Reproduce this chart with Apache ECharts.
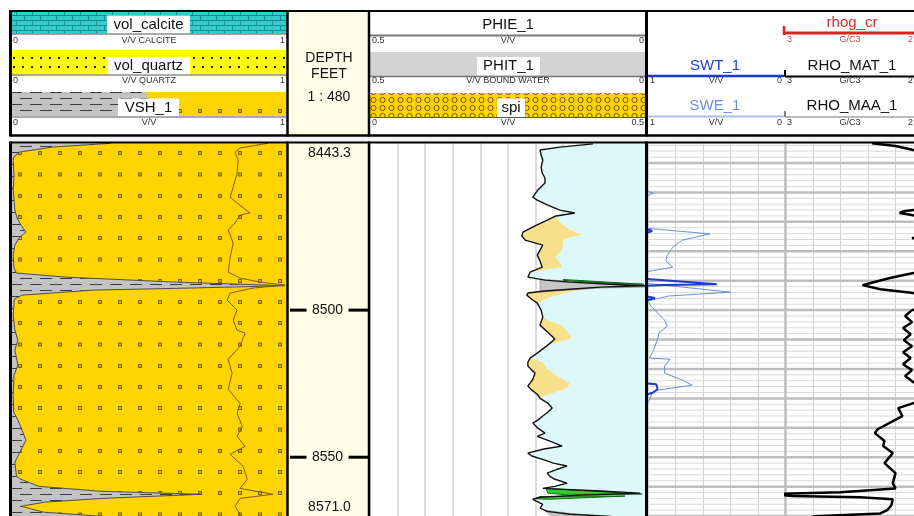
<!DOCTYPE html>
<html>
<head>
<meta charset="utf-8">
<title>Well log</title>
<script src="https://cdn.jsdelivr.net/npm/echarts@6.0.0/dist/echarts.min.js"></script>
<style>
html, body { margin: 0; padding: 0; background: #ffffff; }
#log { width: 914px; height: 516px; }
</style>
</head>
<body>
<div id="log"></div>
<script>
// Depth interval of the plot, feet
const depthTop = 8443.3;
const depthBottom = 8571.0;
const depthTicks = [8500, 8550];

// Track 1: shale volume VSH_1, [depth, V/V]
const vsh = [
  [8443.3,0.36],[8444.6,0.15],[8446.3,0.03],[8448.0,0.01],[8449.0,0.008],[8454.1,0.011],[8459.2,0.008],
  [8466.0,0.014],[8468.7,0.022],[8471.1,0.036],[8473.5,0.054],[8475.5,0.029],[8477.9,0.014],[8481.3,0.008],
  [8485.7,0.011],[8487.4,0.02],[8488.8,0.2],[8490.5,0.6],[8491.7,0.99],[8492.5,0.65],[8493.2,0.3],
  [8494.9,0.04],[8496.3,0.012],[8501.7,0.008],[8506.8,0.014],[8510.2,0.025],[8513.6,0.014],[8518.7,0.025],
  [8522.1,0.011],[8528.9,0.008],[8534.7,0.01],[8537.4,0.025],[8541.5,0.043],[8544.2,0.054],[8547.6,0.036],
  [8551.7,0.014],[8556.5,0.02],[8557.5,0.036],[8559.9,0.1],[8561.6,0.33],[8562.6,0.69],[8564.0,0.33],
  [8565.3,0.12],[8566.7,0.036],[8567.3,0.04],[8568.7,0.12],[8570.1,0.33],[8571.0,0.4]
];

// Track 1: cumulative mineral volume line, [depth, V/V]
const mineralLine = [
  [8443.3,0.93],[8444.9,0.83],[8446.3,0.812],[8449.0,0.823],[8453.4,0.819],[8458.2,0.805],[8461.6,0.794],
  [8463.6,0.819],[8467.0,0.866],[8467.7,0.83],[8470.4,0.812],[8472.8,0.787],[8477.2,0.805],[8482.0,0.794],
  [8487.1,0.787],[8489.1,0.83],[8490.5,0.903],[8491.5,0.993],[8492.5,0.877],[8494.2,0.794],[8496.6,0.783],
  [8500.0,0.819],[8503.4,0.805],[8506.8,0.819],[8507.8,0.848],[8512.3,0.83],[8516.7,0.787],[8521.5,0.801],
  [8526.9,0.787],[8531.7,0.83],[8535.1,0.819],[8539.5,0.838],[8542.9,0.819],[8546.3,0.848],[8549.0,0.794],
  [8553.1,0.841],[8557.5,0.856],[8560.6,0.83],[8562.6,0.949],[8564.0,0.83],[8566.7,0.812],[8569.4,0.83],
  [8571.0,0.82]
];

// Track 3: effective porosity PHIE_1, [depth, V/V]
const phie = [
  [8443.5,0.096],[8444.6,0.156],[8445.6,0.192],[8447.3,0.190],[8449.0,0.187],[8451.4,0.190],[8453.4,0.188],
  [8455.1,0.183],[8456.8,0.183],[8459.2,0.196],[8461.6,0.205],[8462.6,0.197],[8464.3,0.178],[8466.0,0.156],
  [8467.0,0.129],[8468.0,0.163],[8469.4,0.179],[8471.4,0.201],[8473.5,0.223],[8474.8,0.225],[8476.2,0.219],
  [8477.9,0.187],[8479.6,0.192],[8481.3,0.197],[8483.3,0.192],[8485.4,0.188],[8487.1,0.210],[8488.8,0.214],
  [8489.8,0.183],[8490.5,0.138],[8491.2,0.065],[8491.7,0.002],[8492.2,0.083],[8492.9,0.138],[8493.5,0.183],
  [8494.2,0.214],[8494.9,0.216],[8496.3,0.207],[8497.6,0.197],[8500.0,0.190],[8502.4,0.187],[8505.1,0.192],
  [8507.5,0.178],[8509.8,0.165],[8511.9,0.178],[8514.6,0.197],[8516.3,0.210],[8517.7,0.214],[8519.0,0.214],
  [8520.4,0.207],[8521.4,0.201],[8523.5,0.205],[8524.8,0.210],[8525.8,0.214],[8527.2,0.207],[8528.6,0.197],
  [8530.0,0.192],[8531.6,0.178],[8533.3,0.170],[8534.7,0.178],[8536.0,0.187],[8537.4,0.196],[8538.4,0.205],
  [8540.1,0.196],[8541.8,0.183],[8542.9,0.197],[8544.5,0.174],[8546.2,0.152],[8547.3,0.187],[8548.6,0.214],
  [8549.6,0.207],[8551.0,0.183],[8552.0,0.168],[8553.0,0.143],[8554.1,0.161],[8555.4,0.179],[8556.5,0.174],
  [8557.5,0.165],[8558.8,0.143],[8559.9,0.165],[8560.6,0.187],[8561.5,0.083],[8562.2,0.011],[8562.9,0.120],
  [8563.6,0.192],[8564.3,0.205],[8566.0,0.187],[8567.3,0.192],[8568.4,0.179],[8569.4,0.138],[8570.1,0.065],
  [8571.0,0.047]
];

// Track 3: right edge of the secondary porosity (spi) fill, one list per zone,
// each starting and ending on the PHIE_1 curve, [depth, V/V]
const spiZone1 = [[8468.0,0.163],[8470.1,0.156],[8472.1,0.143],[8474.5,0.116],[8475.2,0.138],[8476.2,0.150],
  [8479.6,0.152],[8482.0,0.165],[8483.7,0.156],[8485.4,0.152],[8486.4,0.185],[8487.1,0.210]];
const spiZone2 = [[8492.2,0.083],[8492.9,0.105],[8493.5,0.130],[8494.2,0.148],[8495.6,0.174],[8496.9,0.190],[8497.6,0.197]];
const spiZone3 = [[8502.4,0.187],[8503.4,0.178],[8505.4,0.152],[8507.8,0.141],[8509.5,0.134],[8510.5,0.152],
  [8511.2,0.163],[8511.9,0.178]];
const spiZone4 = [[8516.3,0.210],[8517.7,0.187],[8520.1,0.179],[8522.4,0.161],[8524.8,0.138],[8526.5,0.143],
  [8527.9,0.165],[8528.9,0.183],[8530.0,0.192]];

// Track 3: bound water (PHIT_1 - PHIE_1) outlines, [depth, V/V]
const boundWater1 = [[8489.5,0.192],[8490.2,0.138],[8490.8,0.065],[8491.7,0.002],[8492.2,0.002],[8492.5,0.083],
  [8493.2,0.147],[8493.9,0.192]];
const boundWater2 = [[8568.0,0.183],[8569.1,0.138],[8570.1,0.062],[8571.0,0.05],[8571.0,0.156],[8569.1,0.178]];

// Track 3: gas flag outlines, [depth, V/V]
const gasFlag1 = [[8489.6,0.150],[8491.2,0.004],[8490.9,0.060],[8489.9,0.150]];
const gasFlag2 = [[8560.6,0.181],[8561.5,0.101],[8562.5,0.007],[8562.7,0.065],[8562.9,0.138],[8562.2,0.178]];
const gasFlag3 = [[8563.4,0.192],[8563.2,0.083],[8563.2,0.038],[8563.7,0.101],[8564.3,0.178],[8564.1,0.201]];

// Track 4: total water saturation SWT_1, [depth, V/V]
const swt = [
  [8443.3,1.03],[8472.1,1.03],[8473.1,0.97],[8474.1,1.03],[8489.2,1.03],[8489.5,0.98],[8491.2,0.50],
  [8491.5,0.88],[8491.8,1.03],[8495.2,1.03],[8495.9,0.95],[8496.9,1.03],[8524.8,1.03],[8525.2,0.94],
  [8526.9,0.93],[8528.2,0.97],[8528.9,1.03],[8571.0,1.03]
];
// Track 4: effective water saturation SWE_1, [depth, V/V]
const swe = [
  [8443.3,1.03],[8459.2,1.03],[8460.2,0.96],[8461.6,1.03],[8472.1,1.03],[8474.1,0.55],[8476.2,0.75],
  [8478.6,0.82],[8481.3,0.86],[8483.3,0.87],[8485.4,0.82],[8487.1,1.03],[8490.8,1.03],[8493.9,0.40],
  [8495.2,0.85],[8496.9,1.0],[8498.6,0.98],[8501.0,0.93],[8503.4,0.88],[8505.4,0.86],[8507.8,0.92],
  [8509.8,0.93],[8513.6,0.96],[8516.3,0.99],[8516.7,0.84],[8519.0,0.88],[8521.4,0.88],[8523.8,0.75],
  [8525.5,0.68],[8527.2,0.93],[8528.2,0.97],[8531.6,1.0],[8534.0,1.03],[8571.0,1.03]
];
// Track 4: matrix density RHO_MAT_1, [depth, G/C3]
const rhoMat = [
  [8443.3,2.37],[8444.2,2.20],[8445.6,2.07],[8446.6,1.95],[8465.3,1.95],[8466.3,2.13],[8467.0,2.17],
  [8467.7,2.08],[8468.7,1.95],[8474.5,1.95],[8475.5,2.08],[8476.5,1.95],[8486.1,1.95],[8487.4,2.07],
  [8489.1,2.24],[8490.8,2.38],[8491.5,2.44],[8492.9,2.31],[8494.2,2.07],[8495.2,1.95],[8499.0,1.95],
  [8500.0,2.08],[8502.0,2.13],[8504.1,2.08],[8506.1,2.145],[8508.2,2.09],[8510.2,2.14],[8512.3,2.08],
  [8514.3,2.145],[8516.3,2.09],[8518.4,2.145],[8520.4,2.08],[8522.4,2.13],[8524.5,2.07],[8525.8,1.95],
  [8530.6,1.95],[8531.6,2.07],[8533.3,2.18],[8536.0,2.15],[8540.5,2.33],[8541.8,2.35],[8544.5,2.28],
  [8546.2,2.29],[8548.6,2.22],[8552.0,2.28],[8555.4,2.20],[8558.8,2.22],[8560.6,2.20],[8561.9,2.60],
  [8562.3,2.95],[8562.5,3.1],[8563.0,3.1],[8563.2,2.95],[8563.6,2.46],[8564.3,2.22],[8566.3,2.23],
  [8568.0,2.26],[8569.1,2.31],[8570.1,2.78],[8571.0,2.89]
];

const FONT = '"Liberation Sans", Arial, sans-serif';

// ---- fill patterns ----
function tile(w, h, draw) {
  const c = document.createElement('canvas');
  c.width = w; c.height = h;
  draw(c.getContext('2d'));
  return { image: c, repeat: 'repeat' };
}
const brickFill = tile(16, 10, g => {
  g.fillStyle = '#33cccc'; g.fillRect(0, 0, 16, 10);
  g.fillStyle = '#178c8f';
  g.fillRect(0, 0, 16, 1); g.fillRect(0, 5, 16, 1);
  g.fillRect(0, 0, 1, 5); g.fillRect(8, 5, 1, 5);
});
const quartzFill = tile(9, 9, g => {
  g.fillStyle = '#ffff00'; g.fillRect(0, 0, 9, 9);
  g.fillStyle = '#222'; g.fillRect(4, 3, 2, 2);
});
const shaleFill = tile(20, 12, g => {
  g.fillStyle = '#c3c3c3'; g.fillRect(0, 0, 20, 12);
  g.fillStyle = '#3c3c3c';
  g.fillRect(0, 2, 12, 1);
  g.fillRect(10, 8, 10, 1); g.fillRect(0, 8, 2, 1);
});
// sandstone: small squares on a 20 px grid, centred on multiples of 20
const sandFill = tile(20, 85, g => {
  g.fillStyle = '#ffd400'; g.fillRect(0, 0, 20, 85);
  [2.5, 24, 45, 66].forEach(y => {
    g.fillStyle = '#7d6400'; g.fillRect(18, y, 2, 4); g.fillRect(0, y, 2, 4);
    g.fillStyle = '#d8b400'; g.fillRect(19, y + 1, 1, 2); g.fillRect(0, y + 1, 1, 2);
  });
});
const spiFill = tile(9, 8, g => {
  g.fillStyle = '#ffd400'; g.fillRect(0, 0, 9, 8);
  g.strokeStyle = '#6e5410'; g.lineWidth = 1;
  g.beginPath(); g.arc(4.5, 4, 2.6, 0, Math.PI * 2); g.stroke();
});

// ---- helpers ----
const swap = arr => arr.map(p => [p[1], p[0]]);
function zonePolygon(edge, curve) {
  const d0 = edge[0][0], d1 = edge[edge.length - 1][0];
  const back = curve.filter(p => p[0] > d0 && p[0] < d1).reverse();
  return edge.concat(back);
}
function polySeries(axis, polys, style, z) {
  return {
    type: 'custom', xAxisIndex: axis, yAxisIndex: axis, clip: true, silent: true, z: z,
    data: polys.map(() => [0, depthTop]),
    renderItem: (params, api) => ({
      type: 'polygon',
      shape: { points: polys[params.dataIndex].map(p => api.coord([p[1], p[0]])) },
      style: style
    })
  };
}
function lineSeries(axis, arr, color, width, z) {
  return {
    type: 'line', xAxisIndex: axis, yAxisIndex: axis, data: swap(arr), showSymbol: false,
    silent: true, z: z, clip: true, lineStyle: { color: color, width: width }
  };
}

// ---- header graphics ----
const gfx = [];
function rect(x, y, w, h, fill, z) { gfx.push({ type: 'rect', z: z || 10, silent: true, shape: { x, y, width: w, height: h }, style: { fill } }); }
function seg(x1, y1, x2, y2, color, w, z) { gfx.push({ type: 'line', z: z || 20, silent: true, shape: { x1, y1, x2, y2 }, style: { stroke: color, lineWidth: w } }); }
function txt(s, x, y, size, color, align) {
  gfx.push({ type: 'text', z: 30, silent: true, x, y,
    style: { text: s, font: size + 'px ' + FONT, fill: color, align: align || 'center', verticalAlign: 'middle' } });
}
function scale(y, l, c, r, x0, x1, color) {
  const col = color || '#333';
  txt(l, x0 + 2, y, 9, col, 'left');
  txt(c, (x0 + x1) / 2, y, 9, col, 'center');
  txt(r, x1 - 2, y, 9, col, 'right');
}
function label(s, cx, cy, bx, bw, color) {
  rect(bx, cy - 9, bw, 18.5, '#ffffff', 15);
  txt(s, cx, cy, 15, color || '#111');
}

// track 1 header
rect(11, 12, 276, 21.5, brickFill);
seg(11, 34, 287, 34, '#555', 1);
scale(41, '0', 'V/V CALCITE', '1', 11, 287);
label('vol_calcite', 148.5, 24.5, 107, 83);
rect(11, 50, 276, 24.5, quartzFill);
seg(11, 75, 287, 75, '#555', 1);
scale(81, '0', 'V/V QUARTZ', '1', 11, 287);
label('vol_quartz', 148.5, 66, 107, 83);
rect(11, 92, 137, 24, shaleFill);
rect(148, 92, 139, 24, sandFill);
seg(11, 117, 287, 117, '#555', 1);
scale(123, '0', 'V/V', '1', 11, 287);
label('VSH_1', 148.5, 107.5, 118, 61);

// depth header
rect(288, 12, 81, 123, '#fffde8');
txt('DEPTH', 329, 58, 14, '#111');
txt('FEET', 329, 74, 14, '#111');
txt('1 : 480', 329, 97, 14, '#111');

// track 3 header
txt('PHIE_1', 508, 25, 15, '#111');
seg(370, 35.5, 646, 35.5, '#777', 2);
scale(41, '0.5', 'V/V', '0', 370, 646);
rect(370, 52, 276, 24, '#d3d3d3');
label('PHIT_1', 508.5, 66, 477, 63);
seg(370, 76.5, 646, 76.5, '#777', 1.5);
scale(81, '0.5', 'V/V BOUND WATER', '0', 370, 646);
rect(370, 93, 276, 24, spiFill);
label('spi', 511, 107.5, 497, 28);
seg(370, 117.5, 646, 117.5, '#555', 1);
scale(123, '0', 'V/V', '0.5', 370, 646);

// track 4 header
txt('rhog_cr', 852, 23, 15, '#e02828');
seg(783, 33, 914, 33, '#e02020', 3);
seg(784, 26, 784, 35, '#e02020', 2.5);
scale(40, '3', 'G/C3', '2', 785, 915, '#c0504d');
txt('SWT_1', 715, 66, 15, '#1f3fcf');
seg(648, 76, 784, 76, '#1a3ad0', 2.5);
txt('RHO_MAT_1', 852, 66, 15, '#111');
seg(785, 70, 785, 77, '#000', 2);
seg(785, 76.5, 914, 76.5, '#000', 2);
scale(81, '1', 'V/V', '0', 648, 784);
scale(81, '3', 'G/C3', '2', 785, 915);
txt('SWE_1', 715, 106, 15, '#6d8fd6');
seg(648, 116.5, 784, 116.5, '#a9bfe6', 2);
txt('RHO_MAA_1', 852, 106, 15, '#111');
seg(785, 111, 785, 117, '#000', 1);
seg(785, 117, 914, 117, '#777', 1);
scale(123, '1', 'V/V', '0', 648, 784);
scale(123, '3', 'G/C3', '2', 785, 915);

// frames
seg(10, 11, 914, 11, '#000', 2, 40);
seg(10, 135.5, 914, 135.5, '#000', 2.5, 40);
rect(10, 137, 904, 5, '#f3f3f3', 5);
seg(10, 142.5, 914, 142.5, '#000', 2, 40);
[[10.5, 3], [287.5, 2.5], [369, 2.5], [646.5, 3]].forEach(([x, w]) => {
  seg(x, 10, x, 136.5, '#000', w, 40);
  seg(x, 141.5, x, 516, '#000', w, 40);
});

// ---- data-area scaffolding ----
const grids = [
  { left: 11, width: 276 },      // 0 lithology
  { left: 289, width: 80 },      // 1 depth
  { left: 370, width: 276 },     // 2 porosity
  { left: 648, width: 275 },     // 3 saturation/density background
  { left: 648, width: 137.5 },   // 4 saturation
  { left: 785.5, width: 137.5 }  // 5 density
].map((g, i) => Object.assign({
  top: 143.3, height: 375.7, outerBoundsMode: 'none', containLabel: false,
  show: i === 1, backgroundColor: '#fffde8', borderWidth: 0
}, g));

const hidden = { axisLine: { show: false }, axisTick: { show: false }, axisLabel: { show: false } };
const xAxis = [
  { gridIndex: 0, type: 'value', min: 0, max: 1, show: false },
  { gridIndex: 1, type: 'value', min: 0, max: 1, show: false },
  Object.assign({ gridIndex: 2, type: 'value', min: 0, max: 0.5, inverse: true, interval: 0.05,
    splitLine: { show: true, lineStyle: { color: '#cfcfcf', width: 1.5 } } }, hidden),
  Object.assign({ gridIndex: 3, type: 'value', min: 0, max: 1, interval: 0.1,
    splitLine: { show: true, lineStyle: { color: '#d2d2d2', width: 1 } } }, hidden),
  { gridIndex: 4, type: 'value', min: 0, max: 1, inverse: true, show: false },
  { gridIndex: 5, type: 'value', min: 2, max: 3, inverse: true, show: false }
];
const yAxis = grids.map((g, i) => ({
  gridIndex: i, type: 'value', min: depthTop, max: depthBottom, inverse: true, show: false
}));

// horizontal chart grid of track 4: fine lines every 2 ft, heavy every 10 ft
const gridDepths = [];
for (let d = Math.ceil(depthTop / 2) * 2; d <= depthBottom; d += 2) gridDepths.push(d);

const series = [
  // track 1
  polySeries(0, [[[depthTop, 0]].concat(vsh, [[depthBottom, 0]])], { fill: shaleFill }, 2),
  polySeries(0, [vsh.concat([[depthBottom, 1], [depthTop, 1]])], { fill: sandFill }, 2),
  lineSeries(0, vsh, '#4a4a4a', 1, 3),
  lineSeries(0, mineralLine, '#7d5a1e', 1, 3),

  // depth track
  {
    type: 'custom', xAxisIndex: 1, yAxisIndex: 1, silent: true, z: 5,
    data: depthTicks.map(d => [0.5, d]),
    renderItem: (params, api) => {
      const d = api.value(1);
      const l = api.coord([0, d]), r = api.coord([1, d]);
      const cx = (l[0] + r[0]) / 2 - 1.5;
      return { type: 'group', children: [
        { type: 'line', shape: { x1: l[0] + 1, y1: l[1], x2: cx - 21, y2: l[1] }, style: { stroke: '#000', lineWidth: 3 } },
        { type: 'line', shape: { x1: cx + 21, y1: l[1], x2: r[0], y2: l[1] }, style: { stroke: '#000', lineWidth: 3 } },
        { type: 'text', x: cx, y: l[1], style: { text: String(d), font: '14px ' + FONT, fill: '#111', align: 'center', verticalAlign: 'middle' } }
      ] };
    }
  },
  {
    type: 'custom', xAxisIndex: 1, yAxisIndex: 1, silent: true, z: 5,
    data: [[0.5, depthTop], [0.5, depthBottom]],
    renderItem: (params, api) => {
      const d = api.value(1);
      const p = api.coord([0.5, d]);
      const dy = params.dataIndex === 0 ? 9.5 : -11.5;
      return { type: 'text', x: p[0] + 0.5, y: p[1] + dy,
        style: { text: d.toFixed(1), font: '14px ' + FONT, fill: '#111', align: 'center', verticalAlign: 'middle' } };
    }
  },

  // track 3
  polySeries(2, [[[depthTop, 0.096]].concat(phie, [[depthBottom, 0], [depthTop, 0]])], { fill: '#dcf8fb' }, 2),
  polySeries(2, [spiZone1, spiZone2, spiZone3, spiZone4].map(z => zonePolygon(z, phie)), { fill: '#f8df8a' }, 3),
  polySeries(2, [boundWater1, boundWater2], { fill: '#c6c6c6', stroke: '#9a9a9a', lineWidth: 0.8 }, 3),
  polySeries(2, [gasFlag1, gasFlag2, gasFlag3], { fill: '#2ecc2e', stroke: '#146614', lineWidth: 1 }, 4),
  lineSeries(2, phie, '#111', 1.4, 5),

  // track 4 chart grid
  {
    type: 'custom', xAxisIndex: 3, yAxisIndex: 3, silent: true, z: 1,
    data: gridDepths.map(d => [0.5, d]),
    renderItem: (params, api) => {
      const d = api.value(1);
      const a = api.coord([0, d]), b = api.coord([1, d]);
      const heavy = d % 10 === 0;
      return { type: 'line', shape: { x1: a[0], y1: a[1], x2: b[0], y2: b[1] },
        style: { stroke: heavy ? '#bdbdbd' : '#d9d9d9', lineWidth: heavy ? 2.5 : 1 } };
    }
  },
  {
    type: 'custom', xAxisIndex: 3, yAxisIndex: 3, silent: true, z: 1,
    data: [[0.5, depthTop]],
    renderItem: (params, api) => {
      const a = api.coord([0.5, depthTop]), b = api.coord([0.5, depthBottom]);
      return { type: 'line', shape: { x1: a[0], y1: a[1], x2: b[0], y2: b[1] }, style: { stroke: '#bdbdbd', lineWidth: 2.5 } };
    }
  },
  lineSeries(4, swe, '#6d8fd6', 1, 4),
  lineSeries(4, swt, '#1a3ad0', 2, 5),
  lineSeries(5, rhoMat, '#000', 2.5, 5)
];

const chart = echarts.init(document.getElementById('log'), null, { renderer: 'canvas', width: 914, height: 516 });
chart.setOption({
  animation: false,
  backgroundColor: '#ffffff',
  grid: grids,
  xAxis: xAxis,
  yAxis: yAxis,
  series: series,
  graphic: { elements: gfx }
});
</script>
</body>
</html>
